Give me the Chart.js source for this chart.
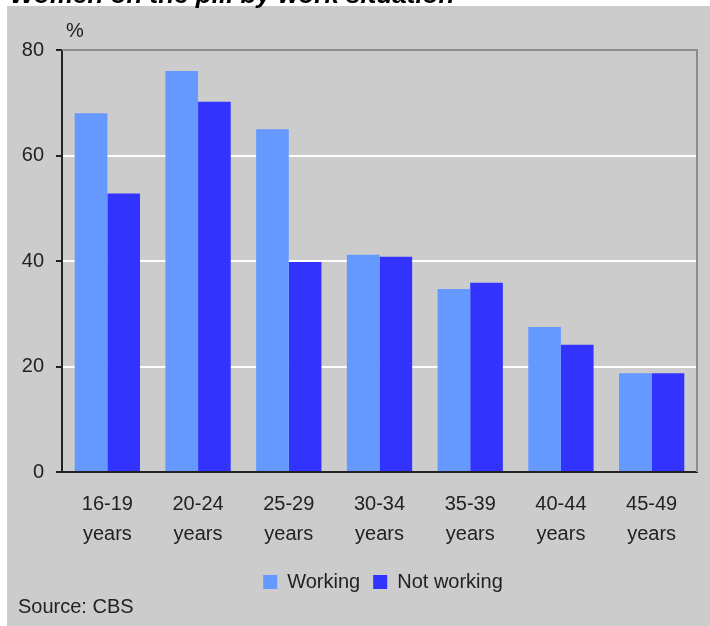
<!DOCTYPE html>
<html>
<head>
<meta charset="utf-8">
<script src="https://cdn.jsdelivr.net/npm/chart.js@4/dist/chart.umd.min.js"></script>
<style>
  html, body { margin: 0; padding: 0; background: #ffffff; overflow: hidden; width: 710px; height: 626px; }
  #title { position: absolute; left: 10px; top: -21px; font: italic bold 26px "Liberation Sans", Arial, sans-serif; color: #000; white-space: nowrap; z-index: 2; }
  #panel { position: absolute; left: 7px; top: 6px; width: 703px; height: 620px; background: #cccccc; overflow: hidden; }
  #wrap { position: absolute; left: 0; top: 0; width: 703px; height: 603px; }
  #unit { position: absolute; left: 59px; top: 13px; font: 20px "Liberation Sans", Arial, sans-serif; color: #222; }
  #source { position: absolute; left: 11px; top: 589px; font: 20px "Liberation Sans", Arial, sans-serif; color: #222; }
</style>
</head>
<body>
<div id="title">Women on the pill by work situation</div>
<div id="panel">
  <div id="wrap"><canvas id="c"></canvas></div>
  <div id="unit">%</div>
  <div id="source">Source: CBS</div>
</div>
<script>
const categories = [["16-19","years"],["20-24","years"],["25-29","years"],["30-34","years"],["35-39","years"],["40-44","years"],["45-49","years"]];
const working = [68, 76, 65, 41.2, 34.7, 27.5, 18.7];
const notWorking = [52.8, 70.2, 39.8, 40.8, 35.9, 24.1, 18.7];
const yTicks = [0, 20, 40, 60, 80];

const frame = {
  id: 'frame',
  afterLayout(chart) {
    const lg = chart.legend;
    if (lg) { lg.left += 31; lg.right += 31; lg.top -= 7; lg.bottom -= 7; }
  },
  afterDraw(chart) {
    const a = chart.chartArea, ctx = chart.ctx;
    ctx.save();
    ctx.strokeStyle = '#8c8c8c';
    ctx.lineWidth = 2;
    ctx.beginPath();
    ctx.moveTo(a.left, a.top);
    ctx.lineTo(a.right, a.top);
    ctx.lineTo(a.right, a.bottom);
    ctx.stroke();
    ctx.restore();
  }
};

new Chart(document.getElementById('c'), {
  type: 'bar',
  data: {
    labels: categories,
    datasets: [
      { label: 'Working', data: working, backgroundColor: '#6699ff', borderWidth: 0 },
      { label: 'Not working', data: notWorking, backgroundColor: '#3333ff', borderWidth: 0 }
    ]
  },
  options: {
    responsive: true,
    maintainAspectRatio: false,
    animation: false,
    devicePixelRatio: 1,
    layout: { padding: { top: 44, right: 13, left: 0, bottom: 0 } },
    datasets: { bar: { categoryPercentage: 0.72, barPercentage: 1.0 } },
    plugins: {
      legend: {
        position: 'bottom',
        labels: {
          boxWidth: 14, boxHeight: 14, padding: 13,
          color: '#222',
          font: { family: '"Liberation Sans", Arial, sans-serif', size: 20 }
        }
      },
      tooltip: { enabled: false },
      title: { display: false }
    },
    scales: {
      x: {
        grid: { display: false, drawTicks: false },
        border: { display: true, color: '#222', width: 2 },
        ticks: {
          color: '#222', padding: 17, maxRotation: 0, autoSkip: false,
          font: { family: '"Liberation Sans", Arial, sans-serif', size: 20, lineHeight: 1.5 }
        }
      },
      y: {
        min: 0, max: 80,
        afterBuildTicks(s) { s.ticks = yTicks.map(v => ({ value: v })); },
        afterFit(s) { s.width = 55; },
        grid: {
          color(ctx) {
            const v = ctx.tick && ctx.tick.value;
            if (v === 20 || v === 40 || v === 60) return '#ffffff';
            return 'rgba(0,0,0,0)';
          },
          lineWidth: 2,
          tickLength: 6,
          tickColor: '#222',
          tickWidth: 2
        },
        border: { display: true, color: '#222', width: 2 },
        ticks: {
          color: '#222', padding: 12,
          font: { family: '"Liberation Sans", Arial, sans-serif', size: 20 }
        }
      }
    }
  },
  plugins: [frame]
});
</script>
</body>
</html>
